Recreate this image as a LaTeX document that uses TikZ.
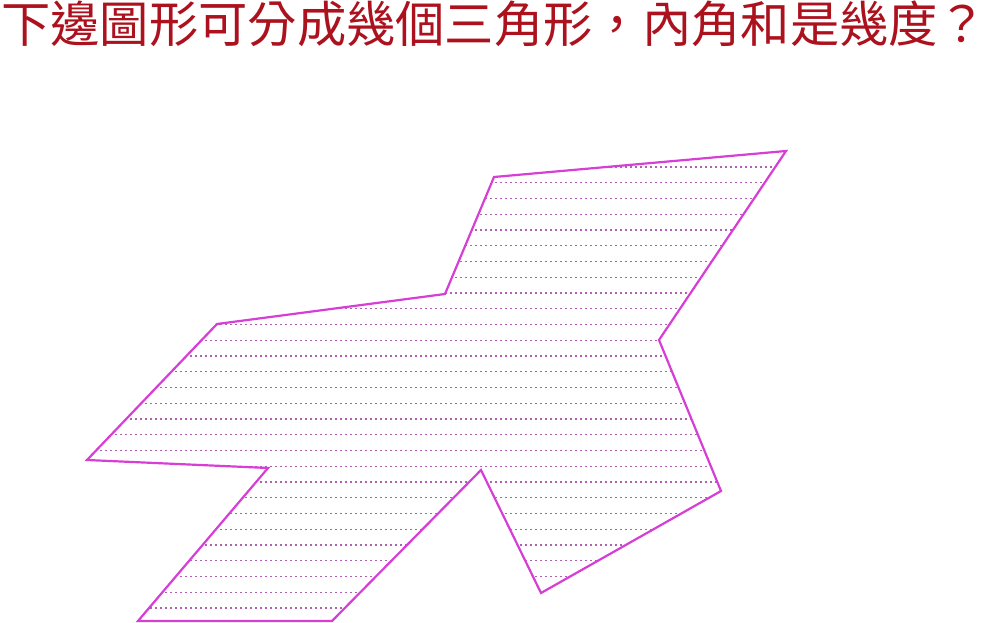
\documentclass[tikz,border=0pt]{standalone}
\usepackage{fontspec}
\newfontfamily\cjk{Noto Sans CJK TC}
\usepackage{xcolor}
\definecolor{titlered}{RGB}{172,18,30}
\definecolor{edge}{RGB}{214,62,214}
\definecolor{hatchc}{RGB}{176,96,176}
\tikzset{
  outline/.style={draw=edge, line width=2.2pt, line join=miter},
  hatch/.style={hatchc, line width=1.3pt, dash pattern=on 1.6pt off 3.4pt}
}
\begin{document}
\begin{tikzpicture}[x=1pt,y=-1pt]
        \useasboundingbox (0,0) rectangle (990,623);

        % Title
        \node[anchor=west, inner sep=0pt, text=titlered, font=\cjk\fontsize{49.3}{53}\selectfont] (title) at (1,24) {下邊圖形可分成幾個三角形，內角和是幾度？};

        % Polygon vertices
        \coordinate (a) at (494,177);
        \coordinate (b) at (786,151);
        \coordinate (c) at (659,340);
        \coordinate (d) at (721,491);
        \coordinate (e) at (541,593);
        \coordinate (f) at (481,470);
        \coordinate (g) at (332,621);
        \coordinate (h) at (138,621);
        \coordinate (i) at (268,468);
        \coordinate (j) at (87,460);
        \coordinate (k) at (217,324);
        \coordinate (l) at (445,294);

        % Hatching
        \begin{scope}
            \clip (a)--(b)--(c)--(d)--(e)--(f)--(g)--(h)--(i)--(j)--(k)--(l)--cycle;
            \foreach \y in {167,182.75,...,612}
                \draw[hatch] (80,\y) -- (800,\y);
        \end{scope}

        % Outline
        \draw[outline] (a)--(b)--(c)--(d)--(e)--(f)--(g)--(h)--(i)--(j)--(k)--(l)--cycle;
\end{tikzpicture}
\end{document}
